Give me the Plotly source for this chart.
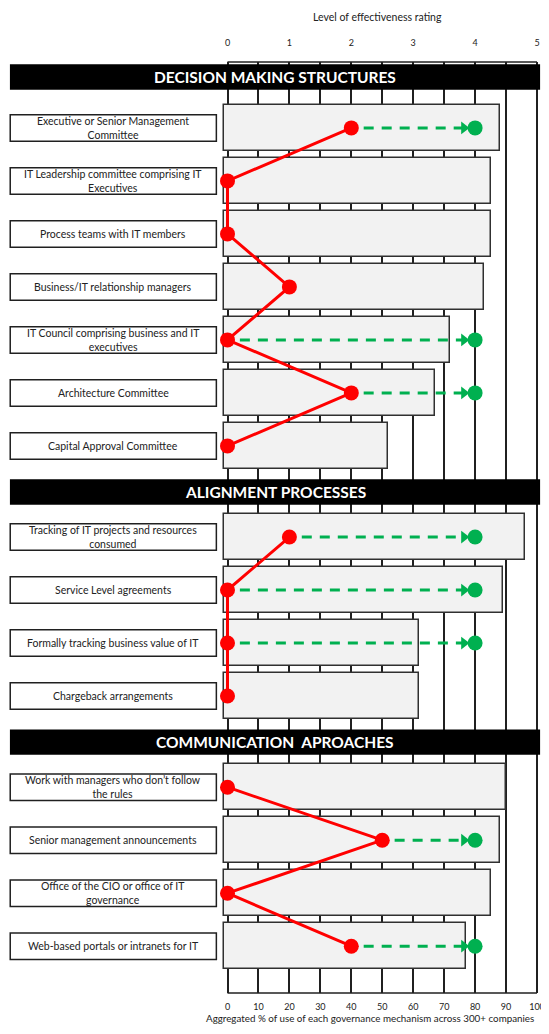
import plotly.graph_objects as go

# ---- data ----
sections = ["DECISION MAKING STRUCTURES", "ALIGNMENT PROCESSES", "COMMUNICATION\u00a0 APROACHES"]
mechanisms = [
    "Executive or Senior Management<br>Committee",
    "IT Leadership committee comprising IT<br>Executives",
    "Process teams with IT members",
    "Business/IT relationship managers",
    "IT Council comprising business and IT<br>executives",
    "Architecture Committee",
    "Capital Approval Committee",
    "Tracking of IT projects and resources<br>consumed",
    "Service Level agreements",
    "Formally tracking business value of IT",
    "Chargeback arrangements",
    "Work with managers who don\u2019t follow<br>the rules",
    "Senior management announcements",
    "Office of the CIO or office of IT<br>governance",
    "Web-based portals or intranets for IT",
]
section_of = [0, 0, 0, 0, 0, 0, 0, 1, 1, 1, 1, 2, 2, 2, 2]
usage_pct = [88, 85, 85, 83, 72, 67, 52, 96, 89, 62, 62, 90, 88, 85, 77]
rating_now = [2, 0, 0, 1, 0, 2, 0, 1, 0, 0, 0, 0, 2.5, 0, 2]
rating_target = [4, None, None, None, 4, 4, None, 4, 4, 4, None, None, 4, None, 4]
rating_ticks = [0, 1, 2, 3, 4, 5]
pct_ticks = [0, 10, 20, 30, 40, 50, 60, 70, 80, 90, 100]

FONT = "Lato, Liberation Sans, sans-serif"
# the page body has an 8px margin, so the figure is smaller than the window
W, H = 541, 1018
PX0, PX_PER = 219.5, 3.095          # pixel of 0 % and pixels per %
x_range = [-PX0 / PX_PER, (W - PX0) / PX_PER]
TOP, BOTTOM = 54, 985               # plot area edges in figure pixels
ROW_PX = 53.0

# vertical layout: headers and rows in "row" units
HEAD_TO_ROW = [0.96, 0.85, 0.85]
ROW_TO_HEAD = 0.87
y_pos, head_pos = [], []
y, prev = 0.0, None
for s in section_of:
    if s != prev:
        if prev is not None:
            y += ROW_TO_HEAD
        head_pos.append(y)
        y += HEAD_TO_ROW[s]
        prev = s
    else:
        y += 1
    y_pos.append(y)

HEAD1_PX = 69                       # figure pixel of first header centre

fig = go.Figure()

# usage bars
fig.add_trace(go.Bar(
    y=y_pos, x=[u + 1 for u in usage_pct], base=-1, orientation="h", width=0.87,
    marker=dict(color="#f2f2f2", line=dict(color="#303030", width=1.5)),
    customdata=usage_pct, hovertemplate="%{customdata}%<extra></extra>",
    showlegend=False,
))

# green dashed arrows to target rating
gx, gy, tri_x, tri_y, dot_x, dot_y = [], [], [], [], [], []
for r0, r1, yy in zip(rating_now, rating_target, y_pos):
    if r1 is None:
        continue
    gx += [r0 * 20 + 4, r1 * 20 - 4, None]
    gy += [yy, yy, None]
    tri_x.append(r1 * 20 - 3.6)
    tri_y.append(yy)
    dot_x.append(r1 * 20)
    dot_y.append(yy)
fig.add_trace(go.Scatter(x=gx, y=gy, mode="lines", showlegend=False, hoverinfo="skip",
                         line=dict(color="#00b050", width=3, dash="10px,8px")))
fig.add_trace(go.Scatter(x=tri_x, y=tri_y, mode="markers", showlegend=False, hoverinfo="skip",
                         marker=dict(symbol="triangle-right", size=11, color="#00b050")))
fig.add_trace(go.Scatter(x=dot_x, y=dot_y, mode="markers", showlegend=False,
                         marker=dict(size=15, color="#00b050"),
                         hovertemplate="Target %{x}<extra></extra>"))

# red line of current rating, broken between sections
rx, ry = [], []
for i, (r0, yy) in enumerate(zip(rating_now, y_pos)):
    if i > 0 and section_of[i] != section_of[i - 1]:
        rx.append(None)
        ry.append(None)
    rx.append(r0 * 20)
    ry.append(yy)
fig.add_trace(go.Scatter(x=rx, y=ry, mode="lines+markers", showlegend=False,
                         line=dict(color="#ff0000", width=3),
                         marker=dict(size=15, color="#ff0000"),
                         hovertemplate="Rating %{x}<extra></extra>"))

shapes, annotations = [], []

# grid top / bottom border lines
for yp in (0, 1):
    shapes.append(dict(type="line", xref="x", yref="paper", x0=0, x1=100, y0=yp, y1=yp,
                       line=dict(color="#202020", width=1.5)))

# section headers
for name, hy in zip(sections, head_pos):
    shapes.append(dict(type="rect", xref="x", yref="y", x0=-70.3, x1=101, y0=hy - 0.24, y1=hy + 0.24,
                       fillcolor="black", line=dict(width=0), layer="above"))
    annotations.append(dict(x=(-70.3 + 101) / 2, y=hy, xref="x", yref="y", text=name, showarrow=False,
                            font=dict(family=FONT, size=15.5, color="white", weight="bold")))

# mechanism label boxes
for name, yy in zip(mechanisms, y_pos):
    shapes.append(dict(type="rect", xref="x", yref="y", x0=-70.2, x1=-3.6, y0=yy - 0.25, y1=yy + 0.25,
                       fillcolor="white", line=dict(color="#202020", width=1.5)))
    annotations.append(dict(x=-36.9, y=yy, xref="x", yref="y", text=name, showarrow=False,
                            font=dict(family=FONT, size=10.5, color="#222")))

annotations.append(dict(x=48.5, y=1, xref="x", yref="paper", yanchor="middle", yshift=TOP - 9,
                        text="Level of effectiveness rating",
                        showarrow=False, font=dict(family=FONT, size=10.5, color="#222")))
annotations.append(dict(x=46, y=0, xref="x", yref="paper", yanchor="middle", yshift=-25,
                        text="Aggregated % of use of each governance mechanism across 300+ companies",
                        showarrow=False, font=dict(family=FONT, size=9.8, color="#222")))

y_top = (TOP - HEAD1_PX) / ROW_PX
y_bot = (BOTTOM - HEAD1_PX) / ROW_PX

fig.update_layout(
    width=W, height=H,
    margin=dict(l=0, r=0, t=TOP, b=H - BOTTOM),
    paper_bgcolor="white", plot_bgcolor="white",
    font=dict(family=FONT, color="#222"),
    shapes=shapes, annotations=annotations,
    bargap=0,
    xaxis=dict(range=x_range, tickvals=pct_ticks, showgrid=True, gridcolor="#202020", gridwidth=1.5,
               zeroline=False, showline=False, ticks="", tickfont=dict(size=9), ticklabelstandoff=7),
    xaxis2=dict(range=[v / 20 for v in x_range], overlaying="x", side="top", tickvals=rating_ticks,
                showgrid=False, zeroline=False, showline=False, ticks="", tickfont=dict(size=9),
                ticklabelstandoff=13),
    yaxis=dict(range=[y_bot, y_top], showgrid=False, zeroline=False,
               showticklabels=False, fixedrange=True),
)
# invisible point so the top rating axis is drawn
fig.add_trace(go.Scatter(x=[0], y=[y_pos[0]], xaxis="x2", mode="markers", opacity=0,
                         showlegend=False, hoverinfo="skip"))

fig.write_html("out.html")
